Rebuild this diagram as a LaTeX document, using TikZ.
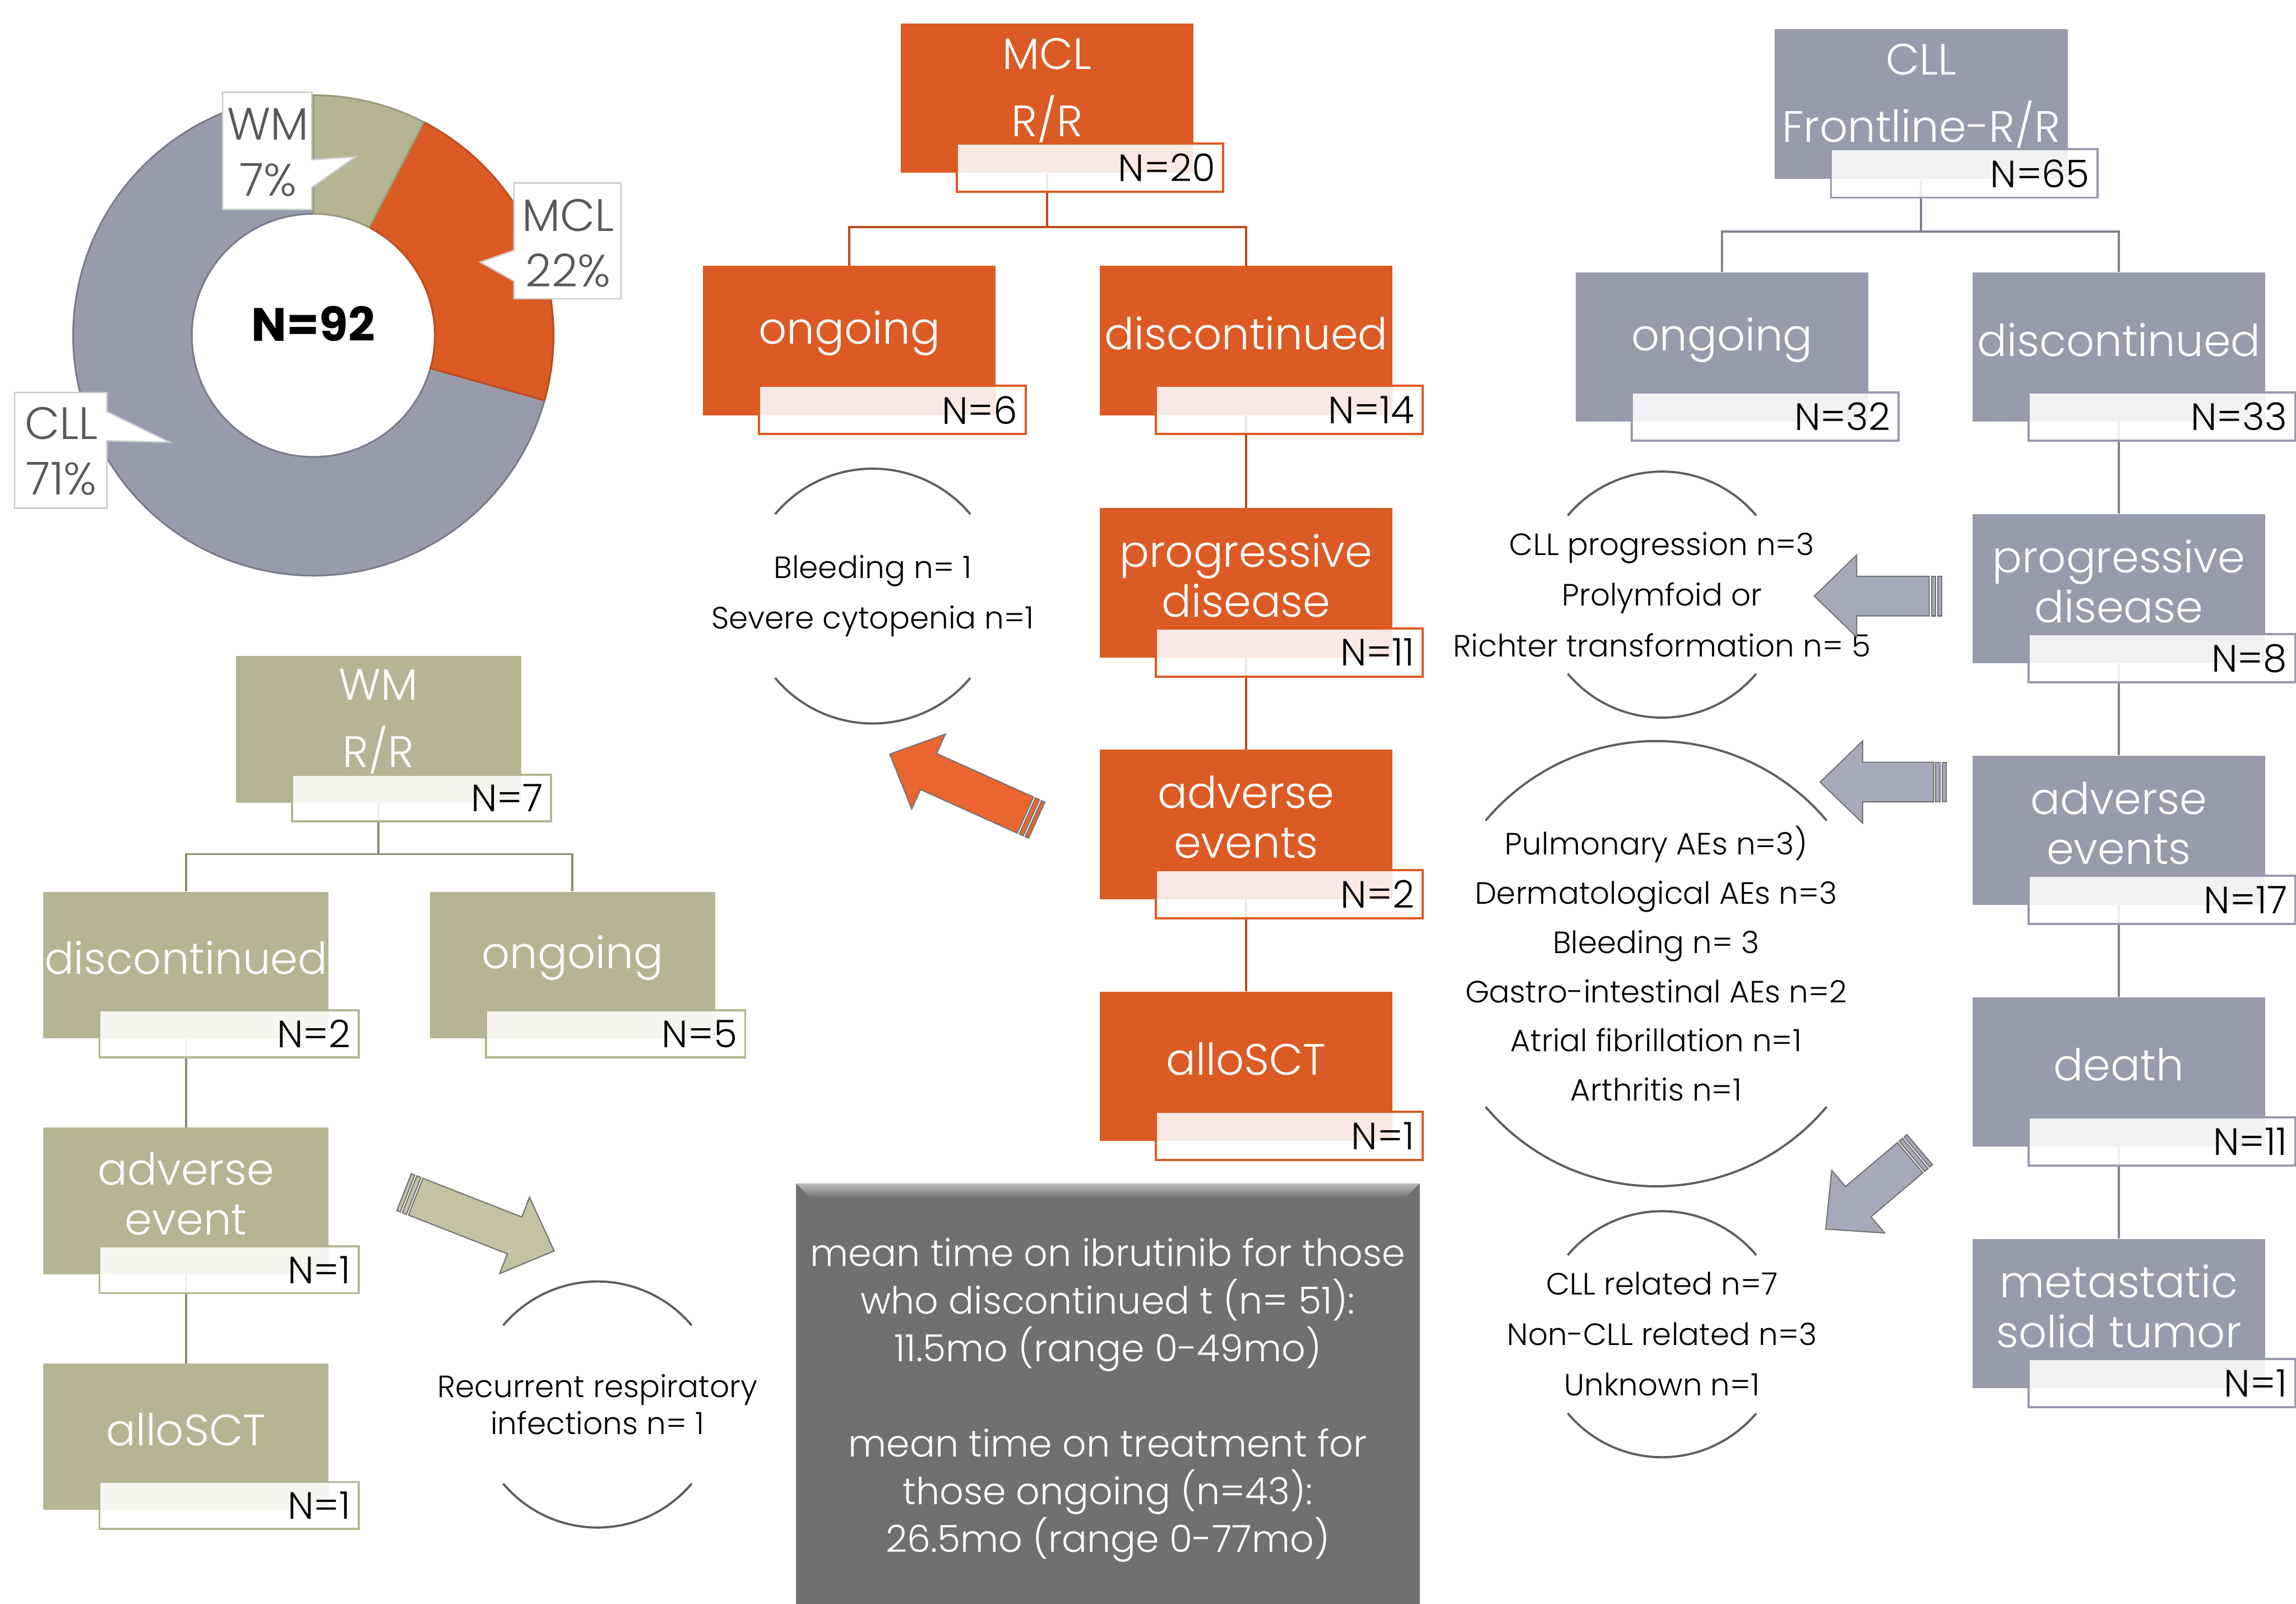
\documentclass[tikz,border=0pt]{standalone}
\usepackage{fontspec}
\setmainfont{Poppins}
\IfFontExistsTF{Poppins Light}{\newfontfamily\thinfont{Poppins Light}}{\newfontfamily\thinfont{Poppins}}
\usetikzlibrary{positioning}

\definecolor{mclfill}{HTML}{DC5A24}
\definecolor{mclline}{HTML}{B84A1C}
\definecolor{cllfill}{HTML}{999AAC}
\definecolor{cllline}{HTML}{80808F}
\definecolor{wmfill}{HTML}{B5B593}
\definecolor{wmline}{HTML}{8C8C6E}
\definecolor{labgray}{HTML}{595959}
\definecolor{arcgray}{HTML}{5F5F5F}
\definecolor{sumfill}{HTML}{707070}
\definecolor{mclarrow}{HTML}{EB6530}
\definecolor{cllarrow}{HTML}{A7A9BB}
\definecolor{wmarrow}{HTML}{C3C3A3}

\tikzset{
  box/.style={rectangle,inner sep=0pt,minimum width=200,minimum height=102},
  mclbox/.style={box,fill=mclfill},
  cllbox/.style={box,fill=cllfill},
  wmbox/.style={box,fill=wmfill,minimum width=195,minimum height=100},
  boxtext/.style={text=white,font=\thinfont\fontsize{30}{34}\selectfont,align=center,yshift=5},
  headtext/.style={boxtext,font=\thinfont\fontsize{30}{46}\selectfont},
  nbox/.style={rectangle,inner sep=0pt,minimum width=182,minimum height=33,text width=171,
    align=right,fill=white,fill opacity=0.87,text opacity=1,line width=1.5,
    font=\thinfont\fontsize{26}{28}\selectfont},
  mclN/.style={nbox,draw=mclfill,below left=-21pt and -21pt of #1.south east},
  cllN/.style={nbox,draw=cllfill,below left=-21pt and -21pt of #1.south east},
  wmN/.style={nbox,draw=wmfill,minimum width=177,minimum height=32,text width=166,
    below left=-20pt and -21pt of #1.south east},
  mclconn/.style={draw=mclline,line width=1.5},
  cllconn/.style={draw=cllline,line width=1.5},
  wmconn/.style={draw=wmline,line width=1.5},
  pielab/.style={text=labgray,font=\thinfont\fontsize{31}{38}\selectfont,align=center},
  callout/.style={fill=white,draw=black!20,line width=1},
  note/.style={font=\thinfont\fontsize{21}{34.5}\selectfont,align=center},
  notearc/.style={draw=arcgray,line width=1.5},
  sumbox/.style={rectangle,fill=sumfill,draw=black!55,line width=1,minimum width=425,
    minimum height=289,text=white,align=center,font=\thinfont\fontsize{25.5}{32.5}\selectfont},
  pics/fatarrow/.style={code={
    \path[pic actions] (8.5,-13.5) -- (#1-29,-13.5) -- (#1-29,-28) -- (#1,0)
      -- (#1-29,28) -- (#1-29,13.5) -- (8.5,13.5) -- cycle;
    \path[pic actions] (0,-13.5) rectangle (2.5,13.5);
    \path[pic actions] (4,-13.5) rectangle (7,13.5);
  }}
}

\begin{document}
\begin{tikzpicture}[x=1pt,y=-1pt]
\useasboundingbox[fill=white] (0,0) rectangle (1568,1095);

% pie chart
\coordinate (pc) at (214,229);
\filldraw[fill=cllfill,draw=cllfill!80!black,line width=1.2]
  ([shift={(-15.7:164pt)}]pc) arc[start angle=-15.7,end angle=-270,radius=164pt]
  -- ([shift={(90:83pt)}]pc) arc[start angle=-270,end angle=-15.7,radius=83pt] -- cycle;
\filldraw[fill=mclfill,draw=mclfill!85!black,line width=1.2]
  ([shift={(62.6:164pt)}]pc) arc[start angle=62.6,end angle=-15.7,radius=164pt]
  -- ([shift={(-15.7:83pt)}]pc) arc[start angle=-15.7,end angle=62.6,radius=83pt] -- cycle;
\filldraw[fill=wmfill,draw=wmfill!85!black,line width=1.2]
  ([shift={(90:164pt)}]pc) arc[start angle=90,end angle=62.6,radius=164pt]
  -- ([shift={(62.6:83pt)}]pc) arc[start angle=62.6,end angle=90,radius=83pt] -- cycle;

\path[callout] (152,63) -- (213,63) -- (213,109) -- (243,107) -- (213,128) -- (213,143) -- (152,143) -- cycle;
\path[callout] (351,125) -- (424,125) -- (424,204) -- (351,204) -- (351,192) -- (328,179) -- (351,171) -- cycle;
\path[callout] (10,268) -- (73,268) -- (73,281) -- (116,302) -- (73,301) -- (73,347) -- (10,347) -- cycle;
\node[pielab] (wmPie) at (183,104) {WM\\7\%};
\node[pielab] (mclPie) at (388,166) {MCL\\22\%};
\node[pielab] (cllPie) at (42,308) {CLL\\71\%};
\node[font=\bfseries\fontsize{32}{32}\selectfont] (total) at (214,221) {N=92};

% MCL tree
\node[mclbox,label={[headtext]center:{MCL\\R/R}}] (mclH) at (715,67) {};
\node[mclbox,label={[boxtext]center:{ongoing}}] (mclOn) at (580,232.5) {};
\node[mclbox,label={[boxtext]center:{discontinued}}] (mclDis) at (851,232.5) {};
\node[mclbox,label={[boxtext]center:{progressive\\disease}}] (mclPD) at (851,398) {};
\node[mclbox,label={[boxtext]center:{adverse\\events}}] (mclAE) at (851,563) {};
\node[mclbox,label={[boxtext]center:{alloSCT}}] (mclSCT) at (851,728) {};

\draw[mclconn] (mclH.south) -- ++(0,37) coordinate (mclSplit) -| (mclOn.north);
\draw[mclconn] (mclSplit) -| (mclDis.north);
\draw[mclconn] (mclDis.south) -- (mclPD.north);
\draw[mclconn] (mclPD.south) -- (mclAE.north);
\draw[mclconn] (mclAE.south) -- (mclSCT.north);

\node[mclN=mclH] (mclHN) {N=20};
\node[mclN=mclOn] (mclOnN) {N=6};
\node[mclN=mclDis] (mclDisN) {N=14};
\node[mclN=mclPD] (mclPDN) {N=11};
\node[mclN=mclAE] (mclAEN) {N=2};
\node[mclN=mclSCT] (mclSCTN) {N=1};

% CLL tree
\node[cllbox,label={[headtext]center:{CLL\\Frontline-R/R}}] (cllH) at (1312,71) {};
\node[cllbox,label={[boxtext]center:{ongoing}}] (cllOn) at (1176,237) {};
\node[cllbox,label={[boxtext]center:{discontinued}}] (cllDis) at (1447,237) {};
\node[cllbox,label={[boxtext]center:{progressive\\disease}}] (cllPD) at (1447,402) {};
\node[cllbox,label={[boxtext]center:{adverse\\events}}] (cllAE) at (1447,567) {};
\node[cllbox,label={[boxtext]center:{death}}] (cllDeath) at (1447,732) {};
\node[cllbox,label={[boxtext]center:{metastatic\\solid tumor}}] (cllMet) at (1447,897) {};

\draw[cllconn] (cllH.south) -- ++(0,36) coordinate (cllSplit) -| (cllOn.north);
\draw[cllconn] (cllSplit) -| (cllDis.north);
\draw[cllconn] (cllDis.south) -- (cllPD.north);
\draw[cllconn] (cllPD.south) -- (cllAE.north);
\draw[cllconn] (cllAE.south) -- (cllDeath.north);
\draw[cllconn] (cllDeath.south) -- (cllMet.north);

\node[cllN=cllH] (cllHN) {N=65};
\node[cllN=cllOn] (cllOnN) {N=32};
\node[cllN=cllDis] (cllDisN) {N=33};
\node[cllN=cllPD] (cllPDN) {N=8};
\node[cllN=cllAE] (cllAEN) {N=17};
\node[cllN=cllDeath] (cllDeathN) {N=11};
\node[cllN=cllMet] (cllMetN) {N=1};

% WM tree
\node[wmbox,label={[headtext]center:{WM\\R/R}}] (wmH) at (258.5,498) {};
\node[wmbox,label={[boxtext]center:{discontinued}}] (wmDis) at (127,659) {};
\node[wmbox,label={[boxtext]center:{ongoing}}] (wmOn) at (391,659) {};
\node[wmbox,label={[boxtext]center:{adverse\\event}}] (wmAE) at (127,820) {};
\node[wmbox,label={[boxtext]center:{alloSCT}}] (wmSCT) at (127,981) {};

\draw[wmconn] (wmH.south) -- ++(0,35) coordinate (wmSplit) -| (wmDis.north);
\draw[wmconn] (wmSplit) -| (wmOn.north);
\draw[wmconn] (wmDis.south) -- (wmAE.north);
\draw[wmconn] (wmAE.south) -- (wmSCT.north);

\node[wmN=wmH] (wmHN) {N=7};
\node[wmN=wmDis] (wmDisN) {N=2};
\node[wmN=wmOn] (wmOnN) {N=5};
\node[wmN=wmAE] (wmAEN) {N=1};
\node[wmN=wmSCT] (wmSCTN) {N=1};

% reasons
\node[note] (mclNote) at (596,407) {Bleeding n= 1\\Severe cytopenia n=1};
\node[note] (cllPDNote) at (1135,406) {CLL progression n=3\\Prolymfoid or\\Richter transformation n= 5};
\node[note,font=\thinfont\fontsize{21}{33.6}\selectfont] (cllAENote) at (1131,658)
  {Pulmonary AEs n=3)\\Dermatological AEs n=3\\Bleeding n= 3\\Gastro-intestinal AEs n=2\\Atrial fibrillation n=1\\Arthritis n=1};
\node[note] (cllDeathNote) at (1135,911) {CLL related n=7\\Non-CLL related n=3\\Unknown n=1};
\node[note,font=\thinfont\fontsize{21}{25}\selectfont] (wmNote) at (408,959) {Recurrent respiratory\\infections n= 1};

\foreach \n/\r in {mclNote/87,cllPDNote/84,cllAENote/152,cllDeathNote/84,wmNote/84}{
  \draw[notearc] ([shift={(40:\r pt)}]\n.center) arc[start angle=40,end angle=140,radius=\r pt];
  \draw[notearc] ([shift={(220:\r pt)}]\n.center) arc[start angle=220,end angle=320,radius=\r pt];
}

% arrows
\coordinate (mclArrow) at (708,560);
\coordinate (cllPDArrow) at (1326,407);
\coordinate (cllAEArrow) at (1329,534);
\coordinate (cllDeathArrow) at (1311,785);
\coordinate (wmArrow) at (276,814);
\pic[rotate=155.8,fill=mclarrow,draw=black!55,line width=0.8] at (mclArrow) {fatarrow=110};
\pic[rotate=180,fill=cllarrow,draw=black!55,line width=0.8] at (cllPDArrow) {fatarrow=87};
\pic[rotate=180,fill=cllarrow,draw=black!55,line width=0.8] at (cllAEArrow) {fatarrow=86};
\pic[rotate=-139.8,fill=cllarrow,draw=black!55,line width=0.8] at (cllDeathArrow) {fatarrow=84};
\pic[rotate=-21.4,fill=wmarrow,draw=black!55,line width=0.8] at (wmArrow) {fatarrow=110};

% summary
\node[sumbox] (summary) at (756.5,953) {};
\shade[top color=black!25,bottom color=sumfill] (summary.north west) -- (summary.north east)
  -- ([shift={(-10,10)}]summary.north east) -- ([shift={(10,10)}]summary.north west) -- cycle;
\node[text=white,align=center,font=\thinfont\fontsize{25.5}{32.5}\selectfont] (sumText) at (756.5,956)
  {mean time on ibrutinib for those\\who discontinued t (n= 51):\\11.5mo (range 0-49mo)\\[32.5pt]mean time on treatment for\\those ongoing (n=43):\\26.5mo (range 0-77mo)};
\end{tikzpicture}
\end{document}
